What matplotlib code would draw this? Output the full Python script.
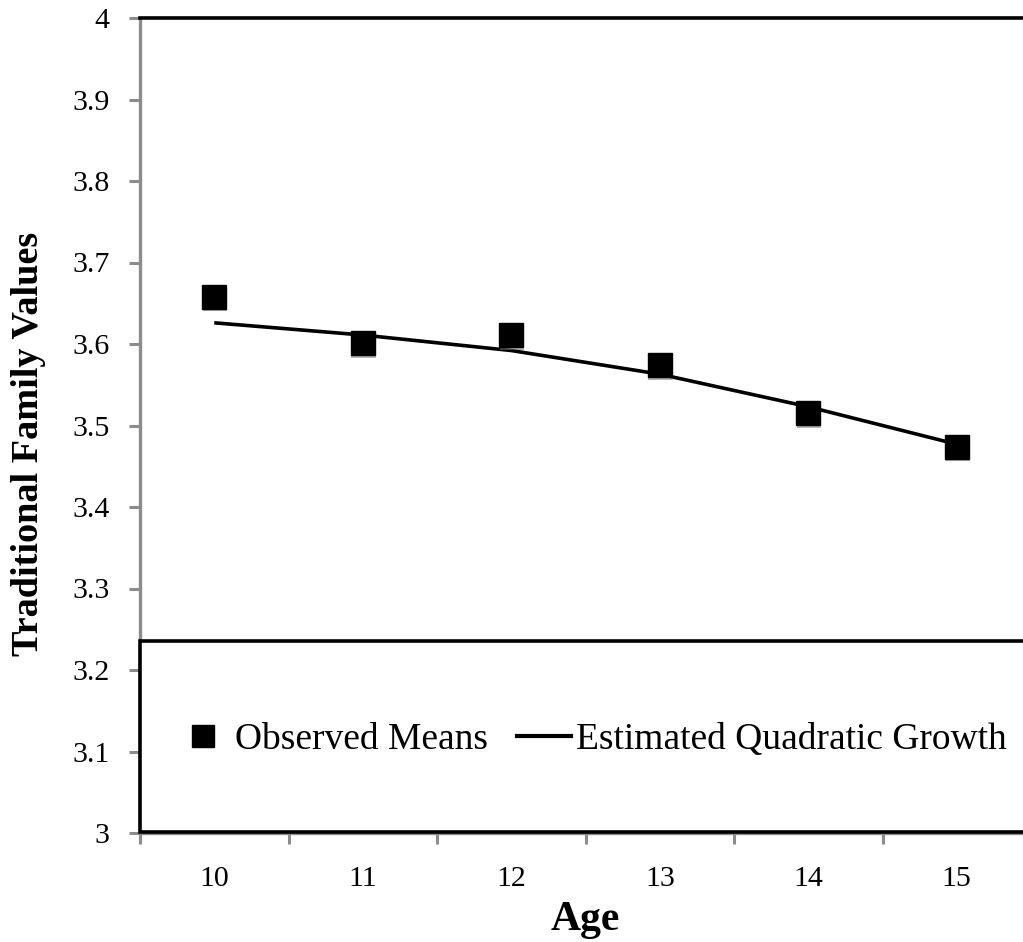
import matplotlib
matplotlib.use("Agg")
import matplotlib.pyplot as plt
import matplotlib.patheffects as pe
from matplotlib.patches import Rectangle
from matplotlib.lines import Line2D

ages = ["10", "11", "12", "13", "14", "15"]
observed_means = [3.658, 3.601, 3.611, 3.574, 3.515, 3.474]
quadratic_fit = [3.626, 3.611, 3.592, 3.563, 3.523, 3.477]
y_ticks = [3, 3.1, 3.2, 3.3, 3.4, 3.5, 3.6, 3.7, 3.8, 3.9, 4]
y_tick_labels = ["3", "3.1", "3.2", "3.3", "3.4", "3.5", "3.6", "3.7", "3.8", "3.9", "4"]

plt.rcParams["font.family"] = ["Liberation Serif", "DejaVu Serif"]

W, H = 1023, 942
fig = plt.figure(figsize=(W / 100, H / 100), dpi=100)
ax = fig.add_axes([140 / W, (H - 833) / H, 891 / W, 815 / H])

x = list(range(len(ages)))
grey = "#8c8c8c"

ax.plot(x, quadratic_fit, color="black", lw=2.6, zorder=3, solid_capstyle="butt",
        solid_joinstyle="round")
shadow = [pe.SimplePatchShadow(offset=(0.6, -1.8), shadow_rgbFace="#777777", alpha=0.55),
          pe.Normal()]
ax.plot(x, observed_means, ls="none", marker="s", ms=17.5, color="black",
        mec="black", zorder=4, path_effects=shadow)

ax.set_xlim(-0.5, 5.5)
ax.set_ylim(3, 4)
ax.set_xticks([i - 0.5 for i in range(len(ages))])
ax.set_xticklabels([])
ax.set_xticks(x, minor=True)
ax.set_xticklabels(ages, minor=True)
ax.tick_params(axis="x", which="minor", length=0, pad=24, labelsize=21.5)
ax.tick_params(axis="x", which="major", length=8, width=2.2, color=grey, direction="out")
ax.set_yticks(y_ticks)
ax.set_yticklabels(y_tick_labels)
ax.tick_params(axis="y", length=8, width=2.2, color=grey, direction="out",
               pad=14, labelsize=21.5)

ax.spines["left"].set_color(grey)
ax.spines["left"].set_linewidth(2.4)
ax.spines["bottom"].set_color(grey)
ax.spines["bottom"].set_linewidth(2.4)
ax.spines["top"].set_color("black")
ax.spines["top"].set_linewidth(2.6)
ax.spines["right"].set_visible(False)

ax.set_xlabel("Age", fontsize=30, fontweight="bold", labelpad=6)
ax.set_ylabel("Traditional Family Values", fontsize=27.5, fontweight="bold")
ax.yaxis.set_label_coords(-0.105, 0.477)

# Legend panel along the bottom of the plot area
box = Rectangle((-0.5, 3.0015), 6.2, 0.2345, facecolor="white", edgecolor="black",
                lw=2.6, zorder=5, clip_on=False)
ax.add_patch(box)

handles = [
    Line2D([], [], ls="none", marker="s", ms=16, color="black"),
    Line2D([], [], color="black", lw=3),
]
leg = ax.legend(handles, ["Observed Means", "Estimated Quadratic Growth"], ncol=2,
                frameon=False, loc="center left", bbox_to_anchor=(0.024, 0.114),
                fontsize=27, handlelength=1.44, handletextpad=0.12, columnspacing=0.78,
                borderaxespad=0)
leg.set_zorder(6)

fig.savefig("out.png", dpi=100, facecolor="white")
